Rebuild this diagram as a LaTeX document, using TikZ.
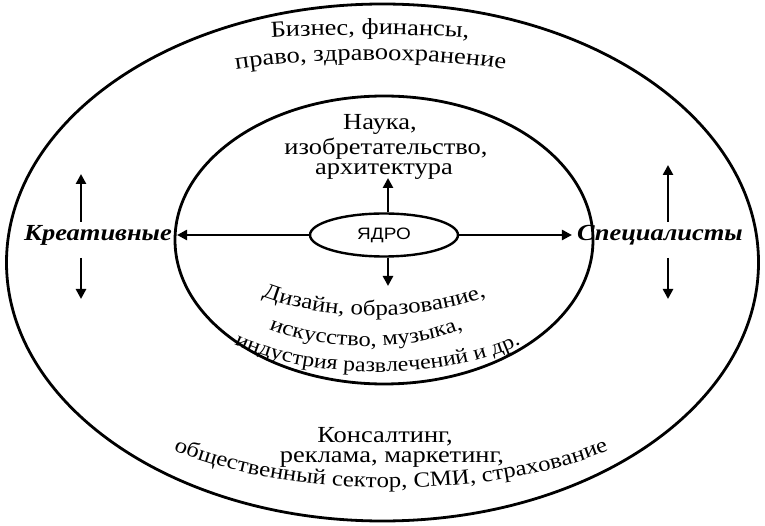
\documentclass[tikz,border=0pt]{standalone}
\usepackage{fontspec}
\setmainfont{Liberation Serif}[FakeStretch=1.15]
\newfontfamily\coresans{Liberation Sans}[FakeStretch=1.15]
\usetikzlibrary{arrows.meta,decorations.text,shapes.geometric}
\newcommand\txtsize{\fontsize{23}{27}\selectfont}

\begin{document}
\begin{tikzpicture}[
    x=1pt, y=1pt,
    ring/.style={draw, line width=2.8pt},
    lbl/.style={font=\txtsize, inner sep=0pt, anchor=base},
    side/.style={font=\txtsize\bfseries\itshape, inner sep=5pt},
    arr/.style={line width=2.8pt, -{Triangle[length=10pt,width=10pt]}},
    bend/.style 2 args={decorate, decoration={text along path, text align=center,
        text={|\fontsize{#1}{27}\selectfont|#2}}}
]
\useasboundingbox (0,0) rectangle (765,525);

% Outer and inner rings
    \draw[ring] (382.5,262.5) ellipse [x radius=376, y radius=258.5];
    \draw[ring] (384,285) ellipse [x radius=209, y radius=144];

% Core node
    \node[ellipse, draw, line width=2.4pt, minimum width=148, minimum height=43,
          font=\coresans\fontsize{16.5}{19}\selectfont] (core) at (384,290) {ЯДРО};

% --- Side labels
    \node[side] (creative) at (98,290) {Креативные};
    \node[side] (special) at (660,290) {Специалисты};

% --- Inner ring, upper part
    \node[lbl] (sci1) at (380,395) {Наука,};
    \node[lbl] (sci2) at (386,370) {изобретательство,};
    \node[lbl] (sci3) at (384,350) {архитектура};

% --- Inner ring, lower part
    \path[bend={21.7}{Дизайн, образование,}] (234,242) .. controls (304,199) and (444,199) .. (514,242);
    \path[bend={21.2}{искусство, музыка,}] (246,208) .. controls (306,169) and (426,169) .. (486,208);
    \path[bend={20.8}{индустрия развлечений и др.}] (205,198) .. controls (285,138) and (470,138) .. (550,198);

% --- Outer ring, upper part
    \path[bend={23}{Бизнес, финансы,}] (240,485) .. controls (310,492) and (430,492) .. (500,485);
    \path[bend={23}{право, здравоохранение}] (208,450) .. controls (298,470) and (448,470) .. (533,450);

% --- Outer ring, lower part
    \node[lbl] (cons1) at (385,83) {Консалтинг,};
    \node[lbl] (cons2) at (392,63) {реклама, маркетинг,};
    \path[bend={21.6}{общественный сектор, СМИ, страхование}] (150,86) .. controls (270,21) and (512,21) .. (632,86);

% Arrows from the core
    \coordinate (coreup) at (388,347);
    \coordinate (coredown) at (388,239);
    \draw[arr] (core.west) -- (creative.east);
    \draw[arr] (core.east) -- (special.west);
    \draw[arr] ([xshift=4pt]core.north) -- (coreup);
    \draw[arr] ([xshift=4pt]core.south) -- (coredown);

% Side arrows
    \coordinate (lu0) at (81,303);
    \coordinate (lu1) at (81,351);
    \coordinate (ld0) at (81,267);
    \coordinate (ld1) at (81,226);
    \coordinate (ru0) at (668,303);
    \coordinate (ru1) at (668,360);
    \coordinate (rd0) at (668,267);
    \coordinate (rd1) at (668,226);
    \draw[arr] (lu0) -- (lu1);
    \draw[arr] (ld0) -- (ld1);
    \draw[arr] (ru0) -- (ru1);
    \draw[arr] (rd0) -- (rd1);
\end{tikzpicture}
\end{document}
